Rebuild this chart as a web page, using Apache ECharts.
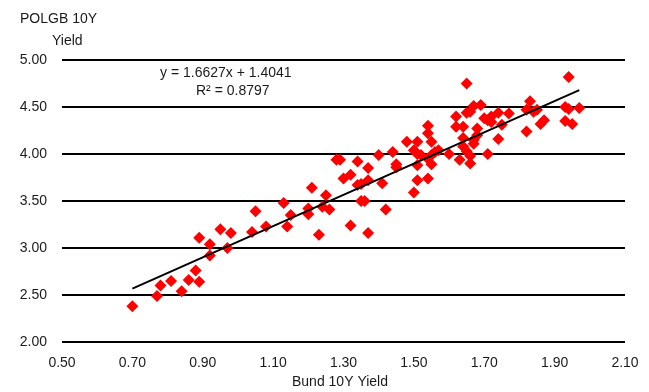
<!DOCTYPE html>
<html>
<head>
<meta charset="utf-8">
<script src="https://cdn.jsdelivr.net/npm/echarts@6/dist/echarts.min.js"></script>
<style>
  html, body { margin: 0; padding: 0; background: #fff; }
  #main { width: 649px; height: 392px; }
</style>
</head>
<body>
<div id="main"></div>
<script>
// Bund 10Y yield vs POLGB 10Y yield
var bund = [0.70, 0.77, 0.78, 0.81, 0.84, 0.86, 0.89, 0.88, 0.92, 0.89, 0.92, 0.95, 0.98, 0.97,
  1.04, 1.05, 1.08, 1.13, 1.14, 1.15, 1.20, 1.20, 1.21, 1.23, 1.25, 1.24, 1.26, 1.28, 1.29,
  1.30, 1.32, 1.32, 1.34, 1.34, 1.35, 1.35, 1.36, 1.37, 1.37, 1.37, 1.40, 1.41, 1.42, 1.44,
  1.45, 1.45, 1.48, 1.50, 1.51, 1.51, 1.50, 1.51, 1.52, 1.51, 1.54, 1.54, 1.54, 1.54, 1.55,
  1.55, 1.55, 1.56, 1.57, 1.60, 1.63, 1.62, 1.62, 1.64, 1.64, 1.64, 1.65, 1.66, 1.66, 1.65,
  1.65, 1.66, 1.67, 1.69, 1.68, 1.68, 1.67, 1.67, 1.71, 1.70, 1.72, 1.71, 1.72, 1.74, 1.74,
  1.75, 1.77, 1.82, 1.82, 1.83, 1.84, 1.85, 1.87, 1.86, 1.93, 1.94, 1.97, 1.93, 1.95, 1.94];
var polgb = [2.38, 2.49, 2.60, 2.65, 2.54, 2.66, 2.64, 2.76, 2.92, 3.11, 3.04, 3.20, 3.16, 3.00,
  3.17, 3.39, 3.23, 3.48, 3.23, 3.35, 3.42, 3.36, 3.64, 3.14, 3.56, 3.44, 3.41, 3.94, 3.94,
  3.74, 3.78, 3.24, 3.92, 3.67, 3.68, 3.50, 3.50, 3.72, 3.85, 3.16, 3.99, 3.69, 3.41, 4.02,
  3.89, 3.86, 4.13, 3.59, 3.72, 4.13, 4.04, 4.00, 3.99, 3.88, 3.95, 3.74, 4.30, 4.22, 4.13,
  3.89, 3.99, 4.02, 4.04, 4.00, 3.94, 4.40, 4.29, 4.29, 4.17, 4.08, 4.03, 3.98, 3.90, 4.75,
  4.44, 4.45, 4.51, 4.52, 4.27, 4.20, 4.15, 4.11, 4.00, 4.38, 4.40, 4.36, 4.34, 4.44, 4.16,
  4.31, 4.43, 4.24, 4.47, 4.56, 4.45, 4.47, 4.36, 4.32, 4.50, 4.48, 4.49, 4.35, 4.32, 4.82];

// linear trendline as shown in the chart
var slope = 1.6627;
var intercept = 1.4041;
var r2 = 0.8797;

var xTicks = ['0.50', '0.70', '0.90', '1.10', '1.30', '1.50', '1.70', '1.90', '2.10'];
var yTicks = ['2.00', '2.50', '3.00', '3.50', '4.00', '4.50', '5.00'];

var points = bund.map(function (b, i) { return [b, polgb[i]]; });
var xLo = Math.min.apply(null, bund), xHi = Math.max.apply(null, bund);
var trend = [[xLo, slope * xLo + intercept], [xHi, slope * xHi + intercept]];

var font = '"Liberation Sans", Arial, sans-serif';
var txt = '#1a1a1a';

var myChart = echarts.init(document.getElementById('main'));
var option = {
  animation: false,
  backgroundColor: '#fff',
  grid: { left: 62, right: 24, top: 60, bottom: 50 },
  xAxis: {
    type: 'value',
    min: 0.5, max: 2.1, interval: 0.2,
    axisLine: { show: false },
    axisTick: { show: false },
    splitLine: { show: false },
    axisLabel: {
      margin: 14, color: txt, fontSize: 14, fontFamily: font,
      formatter: function (v) { return v.toFixed(2); }
    }
  },
  yAxis: {
    type: 'value',
    min: 2, max: 5, interval: 0.5,
    axisLine: { show: false },
    axisTick: { show: false },
    splitLine: { show: true, lineStyle: { color: '#000', width: 2 } },
    axisLabel: {
      margin: 15, color: txt, fontSize: 14, fontFamily: font,
      formatter: function (v) { return v.toFixed(2); }
    }
  },
  series: [
    {
      type: 'scatter',
      data: points,
      symbol: 'diamond',
      symbolSize: 12,
      itemStyle: { color: '#ff0000', opacity: 1 },
      z: 3
    },
    {
      type: 'line',
      data: trend,
      symbol: 'none',
      lineStyle: { color: '#000', width: 2 },
      z: 4
    }
  ],
  graphic: [
    { type: 'text', left: 20, top: 12, style: { text: 'POLGB 10Y', font: '14px ' + font, fill: txt } },
    { type: 'text', left: 52, top: 34, style: { text: 'Yield', font: '14px ' + font, fill: txt } },
    { type: 'text', left: 160, top: 66, style: { text: 'y = ' + slope + 'x + ' + intercept, font: '14px ' + font, fill: txt } },
    { type: 'text', left: 196, top: 84, style: { text: 'R² = ' + r2, font: '14px ' + font, fill: txt } },
    { type: 'text', left: 292, top: 375, style: { text: 'Bund 10Y Yield', font: '14px ' + font, fill: txt } }
  ]
};
option && myChart.setOption(option);
</script>
</body>
</html>
